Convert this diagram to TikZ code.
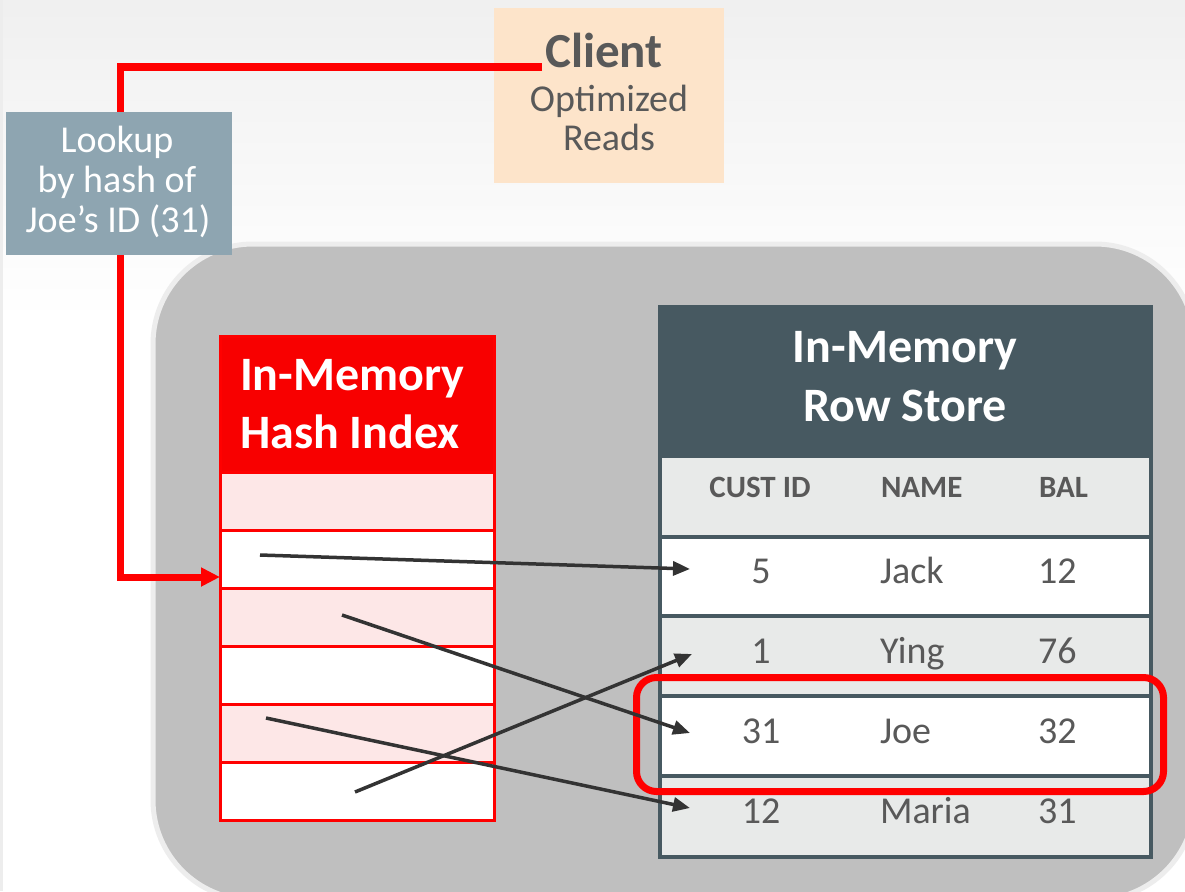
\documentclass[tikz,border=0pt]{standalone}
\usepackage{fontspec}
\setmainfont{Carlito}
\usetikzlibrary{arrows.meta}
\definecolor{clientfill}{HTML}{FDE4CA}
\definecolor{lookupfill}{HTML}{8EA5B1}
\definecolor{hashred}{HTML}{F80000}
\definecolor{pinkrow}{HTML}{FDE7E7}
\definecolor{rsdark}{HTML}{475961}
\definecolor{rslight}{HTML}{E8EAE9}
\definecolor{contgray}{HTML}{BFBFBF}
\definecolor{contedge}{HTML}{EDEDED}
\definecolor{txtgray}{HTML}{595959}
\definecolor{arrowgray}{HTML}{333333}
\begin{document}
\begin{tikzpicture}[x=1pt,y=-1pt,
  box/.style={rectangle,inner sep=0pt,outer sep=0pt,anchor=north west,draw=none},
  lbl/.style={inner sep=0pt,outer sep=0pt,anchor=base},
  bigbold/.style={font=\fontsize{48}{56}\selectfont\bfseries},
  clienttxt/.style={font=\fontsize{49}{56}\selectfont\bfseries,text=txtgray},
  midtxt/.style={font=\fontsize{38}{40}\selectfont},
  colhead/.style={font=\fontsize{31}{36}\selectfont\bfseries,text=txtgray},
  celltxt/.style={font=\fontsize{38}{40}\selectfont,text=txtgray},
  ptr/.style={draw=arrowgray,line width=3.5pt,-{Triangle[length=17pt,width=14pt]}},
  redline/.style={draw=red,line width=7pt,-{Triangle[length=19pt,width=18pt]}},
  hashsep/.style={draw=red,line width=3pt},
  rssep/.style={draw=rsdark,line width=3.5pt}
]
\useasboundingbox (0,0) rectangle (1185,891);
\begin{scope}
\clip (0,0) rectangle (1185,891);
% background
\fill[white] (0,0) rectangle (1185,891);
\shade[top color=black!6,bottom color=white] (0,0) rectangle (1185,320);
\fill[black!7] (0,0) rectangle (3,891);
% container
\draw[fill=contgray,draw=contedge,line width=5pt,rounded corners=100pt] (153,244) rectangle (1195,900);
\end{scope}

% client box
\node[box,fill=clientfill,minimum width=230pt,minimum height=175pt] (client) at (494,8) {};
\node[lbl,clienttxt] (clienttitle) at (604,67) {Client};
\node[lbl,midtxt,text=txtgray] (clientl1) at (609,111) {Optimized};
\node[lbl,midtxt,text=txtgray] (clientl2) at (609,150) {Reads};

% hash index
\node[box,fill=hashred,minimum width=274pt,minimum height=136pt] (hhead) at (220,336) {};
\node[lbl,bigbold,text=white,anchor=base west] (hh1) at (240,390) {In-Memory};
\node[lbl,bigbold,text=white,anchor=base west] (hh2) at (240,448) {Hash Index};
\node[box,fill=pinkrow,minimum width=274pt,minimum height=58pt] (hrow1) at (220,472) {};
\node[box,fill=white,minimum width=274pt,minimum height=58pt] (hrow2) at (220,530) {};
\node[box,fill=pinkrow,minimum width=274pt,minimum height=58pt] (hrow3) at (220,588) {};
\node[box,fill=white,minimum width=274pt,minimum height=58pt] (hrow4) at (220,646) {};
\node[box,fill=pinkrow,minimum width=274pt,minimum height=58pt] (hrow5) at (220,704) {};
\node[box,fill=white,minimum width=274pt,minimum height=58pt] (hrow6) at (220,762) {};
\foreach \r in {2,...,6}{\draw[hashsep] (hrow\r.north west) -- (hrow\r.north east);}
\draw[hashsep] (hrow1.north west) -- (hrow1.north east);
\draw[hashsep] (hhead.north west) rectangle (hrow6.south east);

% row store
\node[box,fill=rsdark,minimum width=491pt,minimum height=151pt] (rshead) at (660,307) {};
\node[lbl,bigbold,text=white] (rs1) at (905,362) {In-Memory};
\node[lbl,bigbold,text=white] (rs2) at (905,421) {Row Store};
\node[box,fill=rslight,minimum width=491pt,minimum height=79pt] (rcols) at (660,458) {};
\node[box,fill=white,minimum width=491pt,minimum height=79pt] (rjack) at (660,537) {};
\node[box,fill=rslight,minimum width=491pt,minimum height=80pt] (rying) at (660,616) {};
\node[box,fill=white,minimum width=491pt,minimum height=80pt] (rjoe) at (660,696) {};
\node[box,fill=rslight,minimum width=491pt,minimum height=81pt] (rmaria) at (660,776) {};
\foreach \r in {rjack,rying,rjoe,rmaria}{\draw[rssep] (\r.north west) -- (\r.north east);}
\draw[rssep] (rshead.north west) rectangle (rmaria.south east);

\node[lbl,colhead] (hid) at (760,497) {CUST ID};
\node[lbl,colhead,anchor=base west] (hname) at (881,497) {NAME};
\node[lbl,colhead,anchor=base west] (hbal) at (1039,497) {BAL};

\node[lbl,celltxt] (id1) at (761,583) {5};
\node[lbl,celltxt,anchor=base west] (nm1) at (880,583) {Jack};
\node[lbl,celltxt,anchor=base west] (bl1) at (1038,583) {12};
\node[lbl,celltxt] (id2) at (761,663) {1};
\node[lbl,celltxt,anchor=base west] (nm2) at (880,663) {Ying};
\node[lbl,celltxt,anchor=base west] (bl2) at (1038,663) {76};
\node[lbl,celltxt] (id3) at (761,743) {31};
\node[lbl,celltxt,anchor=base west] (nm3) at (880,743) {Joe};
\node[lbl,celltxt,anchor=base west] (bl3) at (1038,743) {32};
\node[lbl,celltxt] (id4) at (761,823) {12};
\node[lbl,celltxt,anchor=base west] (nm4) at (880,823) {Maria};
\node[lbl,celltxt,anchor=base west] (bl4) at (1038,823) {31};

% red highlight
\draw[draw=red,line width=7pt,rounded corners=20pt] (636.5,677.5) rectangle (1163.5,791.5);

% pointers
\coordinate (s1) at (260,555);
\coordinate (e1) at (690,569);
\coordinate (s2) at (342,615);
\coordinate (e2) at (690,733);
\coordinate (s3) at (355,792);
\coordinate (e3) at (692,654);
\coordinate (s4) at (266,718);
\coordinate (e4) at (690,808);
\draw[ptr] (s1) -- (e1);
\draw[ptr] (s2) -- (e2);
\draw[ptr] (s3) -- (e3);
\draw[ptr] (s4) -- (e4);

% red lookup line
\coordinate (cstart) at (542,67);
\coordinate (corner) at (120,577);
\draw[redline] (cstart) -| (corner) -- (corner -| hrow2.west);

% lookup box
\node[box,fill=lookupfill,minimum width=226pt,minimum height=143pt] (lookup) at (6,112) {};
\node[lbl,midtxt,text=white] (lk1) at (117,152) {Lookup};
\node[lbl,midtxt,text=white] (lk2) at (117,192) {by hash of};
\node[lbl,midtxt,text=white] (lk3) at (118,232) {Joe’s ID (31)};
\end{tikzpicture}
\end{document}
